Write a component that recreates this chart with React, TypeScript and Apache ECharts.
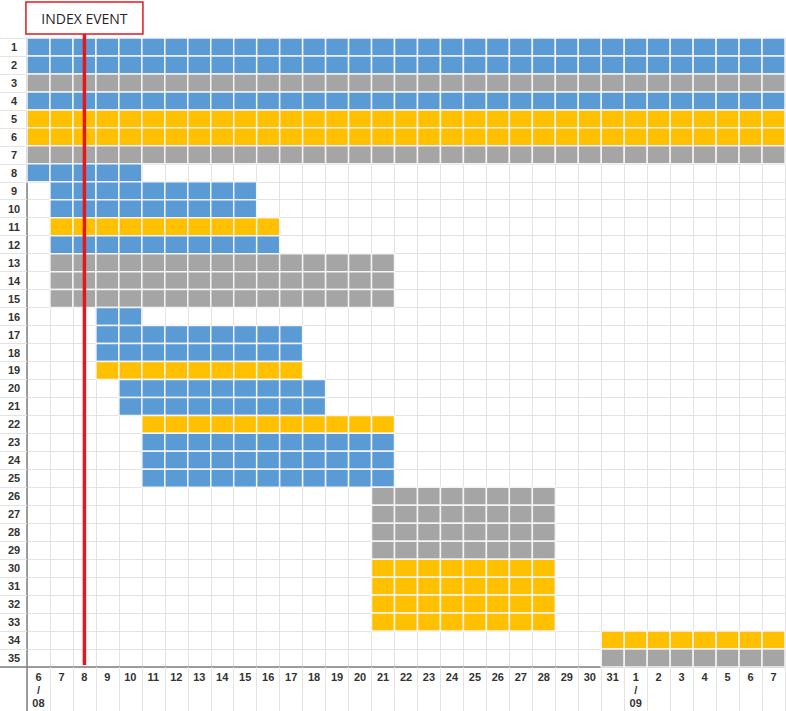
import React, { useEffect, useRef } from "react";
import * as echarts from "echarts";

const dates: string[] = [
  "08-06", "08-07", "08-08", "08-09", "08-10", "08-11", "08-12", "08-13", "08-14", "08-15",
  "08-16", "08-17", "08-18", "08-19", "08-20", "08-21", "08-22", "08-23", "08-24", "08-25",
  "08-26", "08-27", "08-28", "08-29", "08-30", "08-31",
  "09-01", "09-02", "09-03", "09-04", "09-05", "09-06", "09-07",
];

const rowLabels: string[] = Array.from({ length: 35 }, (_, i) => String(i + 1));

const rowColor: string[] = [
  "blue", "blue", "gray", "blue", "yellow", "yellow", "gray",
  "blue", "blue", "blue", "yellow", "blue", "gray", "gray", "gray",
  "blue", "blue", "blue", "yellow", "blue", "blue",
  "yellow", "blue", "blue", "blue",
  "gray", "gray", "gray", "gray",
  "yellow", "yellow", "yellow", "yellow",
  "yellow", "gray",
];

const rowStart: string[] = [
  "08-06", "08-06", "08-06", "08-06", "08-06", "08-06", "08-06",
  "08-06", "08-07", "08-07", "08-07", "08-07", "08-07", "08-07", "08-07",
  "08-09", "08-09", "08-09", "08-09", "08-10", "08-10",
  "08-11", "08-11", "08-11", "08-11",
  "08-21", "08-21", "08-21", "08-21",
  "08-21", "08-21", "08-21", "08-21",
  "08-31", "08-31",
];

const rowEnd: string[] = [
  "09-07", "09-07", "09-07", "09-07", "09-07", "09-07", "09-07",
  "08-10", "08-15", "08-15", "08-16", "08-16", "08-21", "08-21", "08-21",
  "08-10", "08-17", "08-17", "08-17", "08-18", "08-18",
  "08-21", "08-21", "08-21", "08-21",
  "08-28", "08-28", "08-28", "08-28",
  "08-28", "08-28", "08-28", "08-28",
  "09-07", "09-07",
];

const indexEventDate = "08-08";
const indexEventLabel = "INDEX EVENT";

const palette: Record<string, string> = {
  blue: "#5B9BD5",
  yellow: "#FFC000",
  gray: "#A5A5A5",
};

function formatDay(v: string): string {
  const [m, d] = v.split("-");
  const day = String(parseInt(d, 10));
  if (v === dates[0] || d === "01") return `${day}\n/\n${m}`;
  return day;
}

export default function App() {
  const ref = useRef<HTMLDivElement>(null);

  useEffect(() => {
    if (!ref.current) return;
    const chart = echarts.init(ref.current, undefined, { renderer: "svg" });

    const cells: any[] = [];
    rowLabels.forEach((_, r) => {
      const s = dates.indexOf(rowStart[r]);
      const e = dates.indexOf(rowEnd[r]);
      for (let c = s; c <= e; c++) {
        cells.push([c, r, rowColor[r]]);
      }
    });

    const gridLeft = 27;
    const gridTop = 38;
    const gridBottom = 44;
    const H = 711;
    const axisColor = "#7F7F7F";
    const lightGrid = "#E3E3E3";
    const font = "'Liberation Sans', Arial, sans-serif";

    chart.setOption({
      animation: false,
      grid: { left: gridLeft, top: gridTop, right: 1, bottom: gridBottom, containLabel: false },
      xAxis: {
        type: "category",
        data: dates,
        boundaryGap: true,
        axisLine: { show: true, lineStyle: { color: axisColor, width: 1.5 } },
        axisTick: { show: true, length: gridBottom, interval: 0, lineStyle: { color: lightGrid } },
        splitLine: { show: true, interval: 0, lineStyle: { color: lightGrid, width: 1 } },
        axisLabel: {
          interval: 0,
          margin: 3,
          fontSize: 11,
          lineHeight: 13,
          fontWeight: "bold",
          color: "#333",
          fontFamily: font,
          formatter: (v: string) => formatDay(v),
        },
      },
      yAxis: {
        type: "category",
        data: rowLabels,
        inverse: true,
        boundaryGap: true,
        axisLine: { show: true, lineStyle: { color: axisColor, width: 1.5 } },
        axisTick: { show: true, length: gridLeft, interval: 0, lineStyle: { color: lightGrid } },
        splitLine: { show: true, interval: 0, lineStyle: { color: lightGrid, width: 1 } },
        axisLabel: {
          interval: 0,
          margin: 13,
          align: "center",
          fontSize: 11,
          fontWeight: "bold",
          color: "#333",
          fontFamily: font,
        },
      },
      series: [
        {
          type: "custom",
          data: cells,
          encode: { x: 0, y: 1 },
          renderItem: (params: any, api: any) => {
            const c = api.coord([api.value(0), api.value(1)]);
            const sz = api.size([1, 1]);
            const key = cells[params.dataIndex][2];
            return {
              type: "rect",
              shape: { x: c[0] - sz[0] / 2, y: c[1] - sz[1] / 2, width: sz[0], height: sz[1] },
              style: { fill: palette[key], stroke: "#F4F4F4", lineWidth: 1.5 },
            };
          },
          z: 2,
        },
      ],
    });

    const lineX = chart.convertToPixel({ xAxisIndex: 0 }, indexEventDate) as number;
    const bottomY = H - gridBottom;
    const boxW = 117;
    const boxH = 32;
    chart.setOption({
      graphic: [
        {
          type: "line",
          z: 50,
          shape: { x1: 0, y1: bottomY, x2: gridLeft, y2: bottomY },
          style: { stroke: axisColor, lineWidth: 1.5 },
        },
        {
          type: "line",
          z: 50,
          shape: { x1: gridLeft, y1: bottomY, x2: gridLeft, y2: H },
          style: { stroke: axisColor, lineWidth: 1.5 },
        },
        {
          type: "line",
          z: 100,
          shape: { x1: lineX, y1: 2 + boxH, x2: lineX, y2: bottomY - 2 },
          style: { stroke: "#E3181F", lineWidth: 3.5 },
        },
        {
          type: "rect",
          z: 100,
          shape: { x: lineX - boxW / 2, y: 2, width: boxW, height: boxH },
          style: { fill: "#FFFFFF", stroke: "#E3181F", lineWidth: 1.5 },
        },
        {
          type: "text",
          z: 101,
          x: lineX,
          y: 2 + boxH / 2,
          style: {
            text: indexEventLabel,
            fill: "#262626",
            font: `14px 'Open Sans', 'Liberation Sans', sans-serif`,
            align: "center",
            verticalAlign: "middle",
          },
        },
      ],
    });

    return () => chart.dispose();
  }, []);

  return (
    <div
      ref={ref}
      style={{ position: "fixed", left: 0, top: 0, width: 786, height: 711, background: "#fff" }}
    />
  );
}
